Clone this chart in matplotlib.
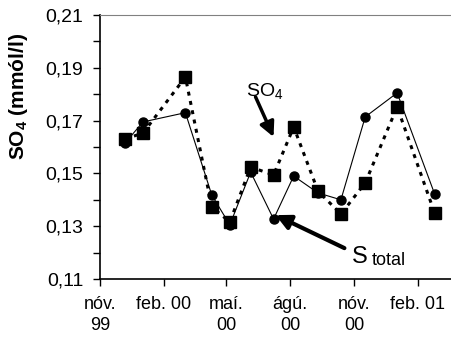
import numpy as np
import matplotlib
matplotlib.use("Agg")
import matplotlib.pyplot as plt
import matplotlib.dates as mdates
from matplotlib.ticker import FixedLocator, FuncFormatter

plt.rcParams['font.family'] = ['Liberation Sans', 'DejaVu Sans']
plt.rcParams['mathtext.fontset'] = 'custom'
plt.rcParams['mathtext.rm'] = 'Liberation Sans'
plt.rcParams['mathtext.bf'] = 'Liberation Sans:bold'

# sampling dates and concentrations (mmol/l)
dates = np.array(['1999-12-07', '2000-01-02', '2000-03-03', '2000-04-10',
                  '2000-05-06', '2000-06-05', '2000-07-08', '2000-08-06',
                  '2000-09-10', '2000-10-13', '2000-11-17', '2001-01-02',
                  '2001-02-25'], dtype='datetime64[D]')
s_total = [0.1615, 0.1695, 0.1730, 0.1418, 0.1305, 0.1505, 0.1327,
           0.1490, 0.1426, 0.1400, 0.1714, 0.1805, 0.1422]
so4 = [0.1630, 0.1653, 0.1865, 0.1373, 0.1316, 0.1524, 0.1494,
       0.1676, 0.1433, 0.1346, 0.1464, 0.1752, 0.1350]

tick_dates = np.array(['1999-11-01', '2000-02-01', '2000-05-01',
                       '2000-08-01', '2000-11-01', '2001-02-01'], dtype='datetime64[D]')
tick_labels = ['nóv.\n99', 'feb. 00', 'maí.\n00', 'ágú.\n00', 'nóv.\n00', 'feb. 01']
y_ticks = [0.11, 0.13, 0.15, 0.17, 0.19, 0.21]

fig = plt.figure(figsize=(4.52, 3.39), dpi=100)
ax = fig.add_axes([100/452, 1-279/339, 1-100/452, 264/339])

ax.plot(dates, so4, color='black', lw=2.2, dashes=(1.3, 1.8), dash_capstyle='butt',
        marker='s', markersize=8.5, zorder=3)
ax.plot(dates, s_total, color='black', lw=0.8, marker='o', markersize=6.5, zorder=2)

ax.set_ylim(0.11, 0.21)
ax.set_xlim(np.datetime64('1999-11-01'), np.datetime64('2001-03-22'))

ax.yaxis.set_major_locator(FixedLocator(y_ticks))
ax.yaxis.set_minor_locator(FixedLocator([v + 0.01 for v in y_ticks[:-1]]))
ax.yaxis.set_major_formatter(FuncFormatter(lambda v, p: f"{v:.2f}".replace('.', ',')))
ax.set_xticks(mdates.date2num(tick_dates))
ax.set_xticklabels(tick_labels, linespacing=1.3)

ax.tick_params(axis='both', which='both', direction='out', length=5, width=1, pad=7)
ax.tick_params(axis='x', labelsize=13)
ax.tick_params(axis='y', labelsize=14)
ax.spines['right'].set_visible(False)
ax.spines['top'].set_color('#808080')
ax.spines['left'].set_linewidth(1.2)
ax.spines['bottom'].set_linewidth(1.2)

ax.set_ylabel(r'SO$_\mathbf{4}$ (mmól/l)', fontsize=15, fontweight='bold')
ax.yaxis.set_label_coords(-0.20, 0.69)

# annotations
ax.annotate('', xy=(np.datetime64('2000-07-08'), 0.1638),
            xytext=(np.datetime64('2000-06-12'), 0.1790),
            arrowprops=dict(arrowstyle='-|>', color='black', lw=2.5, mutation_scale=22,
                            shrinkA=0, shrinkB=0))
ax.text(np.datetime64('2000-05-29'), 0.1790, 'SO$_4$', fontsize=14,
        ha='left', va='baseline')

ax.annotate('', xy=(np.datetime64('2000-07-11'), 0.1342),
            xytext=(np.datetime64('2000-10-18'), 0.1217),
            arrowprops=dict(arrowstyle='-|>', color='black', lw=3, mutation_scale=22,
                            shrinkA=0, shrinkB=0))
ax.text(np.datetime64('2000-10-29'), 0.1161, 'S', fontsize=17, ha='left', va='baseline')
ax.text(np.datetime64('2000-11-26'), 0.1153, 'total', fontsize=13, ha='left', va='baseline')

fig.savefig('out.png', dpi=100)
